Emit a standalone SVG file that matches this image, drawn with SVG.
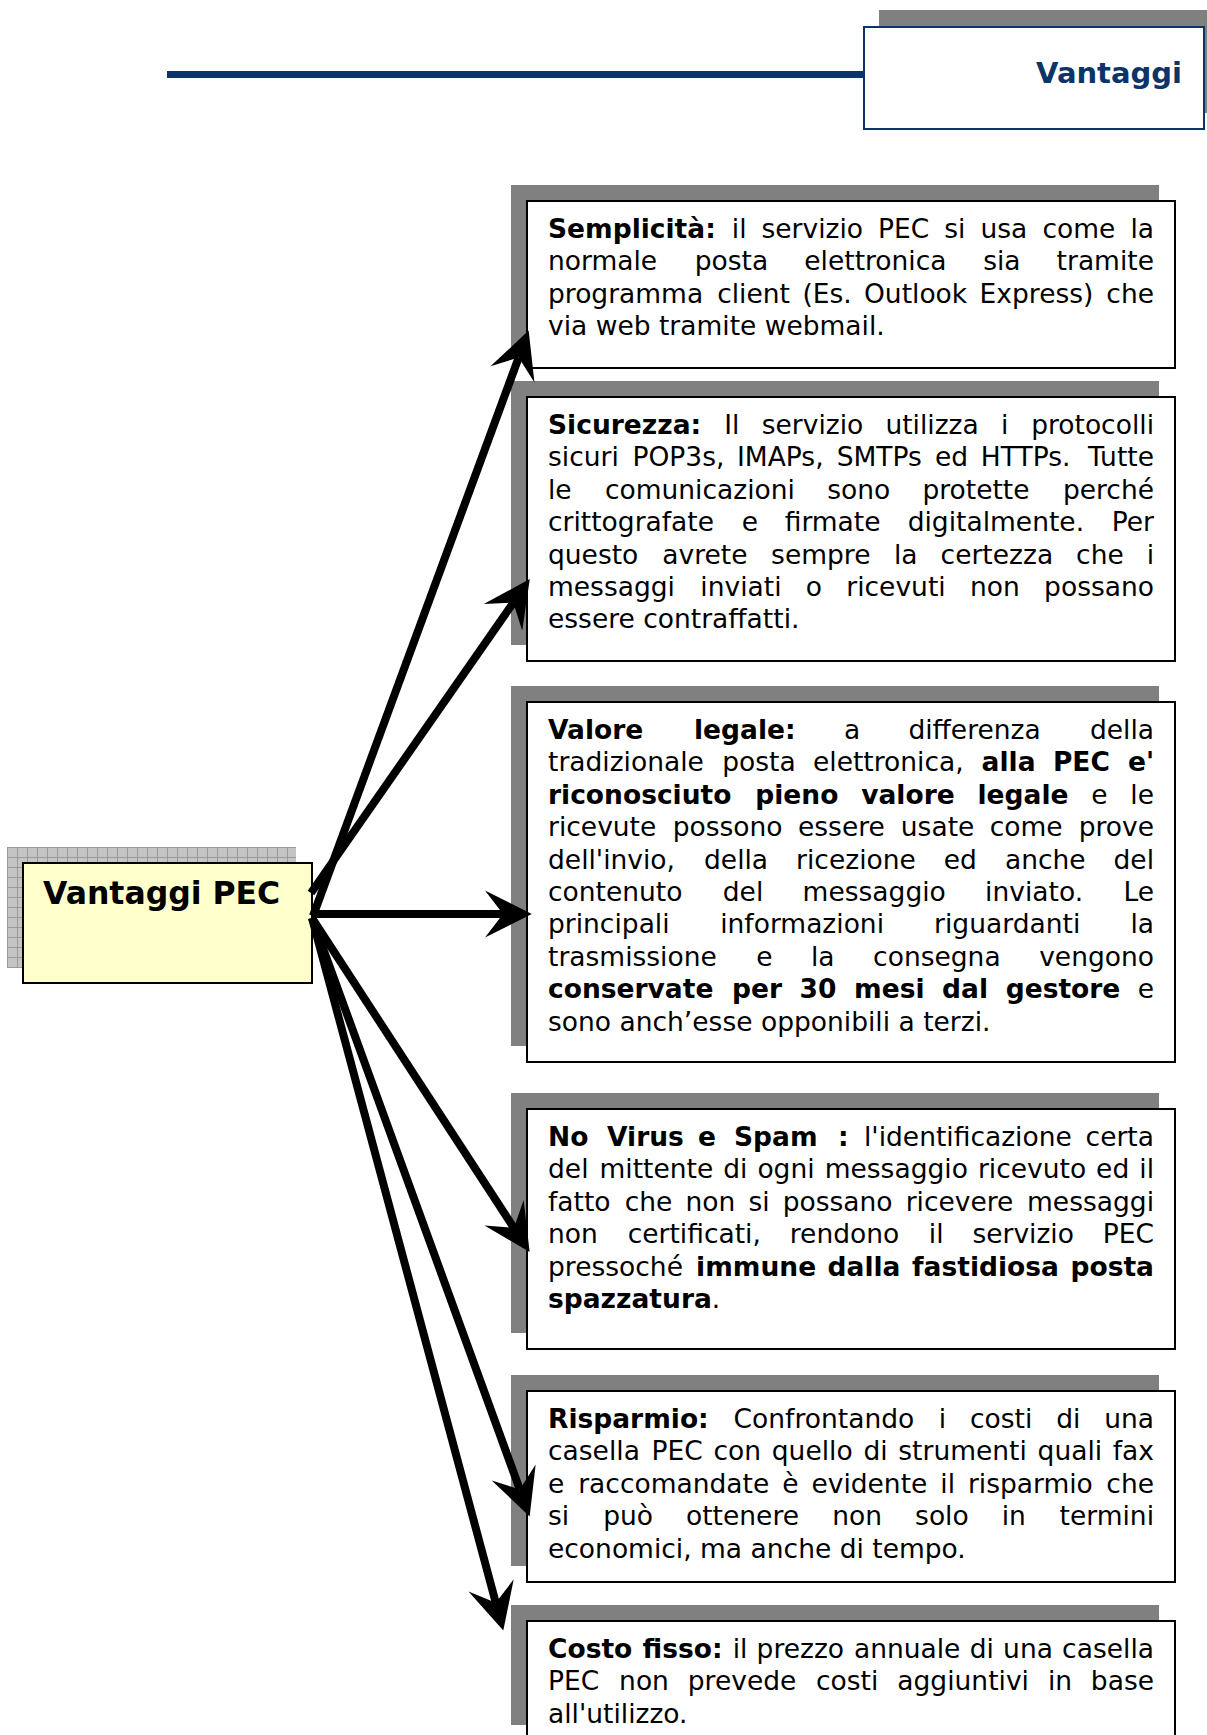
<svg xmlns="http://www.w3.org/2000/svg" width="1207" height="1735" viewBox="0 0 1207 1735">
<style>
.t{font-family:"DejaVu Sans",Verdana,sans-serif;font-size:26.5px;fill:#000}
.b{font-weight:bold}
.sh{fill:#808080}
.box{fill:#fff;stroke:#000;stroke-width:2}
.e{text-anchor:end}
.conn{stroke:#000;stroke-width:8;fill:none;marker-end:url(#ah)}
</style>
<defs>
<marker id="ah" markerUnits="userSpaceOnUse" orient="auto" refX="0" refY="0" markerWidth="60" markerHeight="60" viewBox="-20 -25 50 50" overflow="visible">
<path d="M24,0 L-15,-19.5 L0,0 L-15,19.5 Z" fill="#000"/>
</marker>
<pattern id="grid" width="10" height="10" patternUnits="userSpaceOnUse" x="7" y="847">
<rect width="10" height="10" fill="#c4c4c4"/>
<path d="M0,0.5 H10 M0.5,0 V10" stroke="#999" stroke-width="1"/>
</pattern>
</defs>
<rect width="1207" height="1735" fill="#fff"/>

<g id="header">
<line x1="167" y1="74.5" x2="864" y2="74.5" stroke="#0b3566" stroke-width="7"/>
<rect x="879" y="10" width="345" height="103" class="sh"/>
<rect x="864" y="27" width="340" height="102" fill="#fff" stroke="#0b3566" stroke-width="2"/>
<text x="1182" y="83" class="t b e" style="font-size:29px;fill:#0b3566">Vantaggi</text>
</g>

<g id="node-vantaggi-pec">
<rect x="7" y="847" width="289" height="121" fill="url(#grid)"/>
<rect x="23" y="863" width="289" height="120" fill="#ffffcc" stroke="#000" stroke-width="2"/>
<text x="43" y="904" class="t b" style="font-size:31.5px">Vantaggi PEC</text>
</g>

<g id="node-semplicita">
<rect x="511" y="185" width="648" height="167" class="sh"/>
<rect x="527" y="201" width="648" height="167" class="box"/>
<text y="238" class="t"><tspan x="548" class="b">Semplicità:</tspan><tspan x="731.8">il</tspan><tspan x="761.5">servizio</tspan><tspan x="878.1">PEC</tspan><tspan x="944.3">si</tspan><tspan x="980.5">usa</tspan><tspan x="1042.4">come</tspan><tspan x="1154" class="e">la</tspan></text>
<text y="270.4" class="t"><tspan x="548">normale</tspan><tspan x="694.7">posta</tspan><tspan x="804.3">elettronica</tspan><tspan x="983.2">sia</tspan><tspan x="1154" class="e">tramite</tspan></text>
<text y="302.8" class="t"><tspan x="548">programma</tspan><tspan x="717.2">client</tspan><tspan x="802.4">(Es.</tspan><tspan x="864">Outlook</tspan><tspan x="979.6">Express)</tspan><tspan x="1154" class="e">che</tspan></text>
<text x="548" y="335.2" class="t">via web tramite webmail.</text>
</g>

<g id="node-sicurezza">
<rect x="511" y="381" width="648" height="264" class="sh"/>
<rect x="527" y="397" width="648" height="264" class="box"/>
<text y="434" class="t"><tspan x="548" class="b">Sicurezza:</tspan><tspan x="724.3">Il</tspan><tspan x="761.7">servizio</tspan><tspan x="885.4">utilizza</tspan><tspan x="1001">i</tspan><tspan x="1154" class="e">protocolli</tspan></text>
<text y="466.4" class="t"><tspan x="548">sicuri</tspan><tspan x="632.5">POP3s,</tspan><tspan x="737">IMAPs,</tspan><tspan x="836.7">SMTPs</tspan><tspan x="935">ed</tspan><tspan x="980.8">HTTPs.</tspan><tspan x="1154" class="e">Tutte</tspan></text>
<text y="498.8" class="t"><tspan x="548">le</tspan><tspan x="604.9">comunicazioni</tspan><tspan x="827.2">sono</tspan><tspan x="922.4">protette</tspan><tspan x="1154" class="e">perché</tspan></text>
<text y="531.2" class="t"><tspan x="548">crittografate</tspan><tspan x="741.7">e</tspan><tspan x="784.7">firmate</tspan><tspan x="907.7">digitalmente.</tspan><tspan x="1154" class="e">Per</tspan></text>
<text y="563.6" class="t"><tspan x="548">questo</tspan><tspan x="662.3">avrete</tspan><tspan x="771.1">sempre</tspan><tspan x="894">la</tspan><tspan x="940.6">certezza</tspan><tspan x="1076.1">che</tspan><tspan x="1154" class="e">i</tspan></text>
<text y="596" class="t"><tspan x="548">messaggi</tspan><tspan x="700.3">inviati</tspan><tspan x="805.8">o</tspan><tspan x="846.3">ricevuti</tspan><tspan x="970">non</tspan><tspan x="1154" class="e">possano</tspan></text>
<text x="548" y="628.4" class="t">essere contraffatti.</text>
</g>

<g id="node-valore-legale">
<rect x="511" y="686" width="648" height="360" class="sh"/>
<rect x="527" y="702" width="648" height="360" class="box"/>
<text y="739" class="t"><tspan x="548" class="b">Valore</tspan><tspan x="694" class="b">legale:</tspan><tspan x="843.9">a</tspan><tspan x="908.4">differenza</tspan><tspan x="1154" class="e">della</tspan></text>
<text y="771.4" class="t"><tspan x="548">tradizionale</tspan><tspan x="722.2">posta</tspan><tspan x="813">elettronica,</tspan><tspan x="981.6" class="b">alla</tspan><tspan x="1052.9" class="b">PEC</tspan><tspan x="1154" class="b e">e'</tspan></text>
<text y="803.8" class="t"><tspan x="548" class="b">riconosciuto</tspan><tspan x="755.3" class="b">pieno</tspan><tspan x="861.2" class="b">valore</tspan><tspan x="977.5" class="b">legale</tspan><tspan x="1091.3">e</tspan><tspan x="1154" class="e">le</tspan></text>
<text y="836.2" class="t"><tspan x="548">ricevute</tspan><tspan x="672.7">possono</tspan><tspan x="798">essere</tspan><tspan x="900.8">usate</tspan><tspan x="989.7">come</tspan><tspan x="1154" class="e">prove</tspan></text>
<text y="868.6" class="t"><tspan x="548">dell'invio,</tspan><tspan x="704">della</tspan><tspan x="796.1">ricezione</tspan><tspan x="943.8">ed</tspan><tspan x="1004.9">anche</tspan><tspan x="1154" class="e">del</tspan></text>
<text y="901" class="t"><tspan x="548">contenuto</tspan><tspan x="722.8">del</tspan><tspan x="802.6">messaggio</tspan><tspan x="985.1">inviato.</tspan><tspan x="1154" class="e">Le</tspan></text>
<text y="933.4" class="t"><tspan x="548">principali</tspan><tspan x="720.2">informazioni</tspan><tspan x="934.1">riguardanti</tspan><tspan x="1154" class="e">la</tspan></text>
<text y="965.8" class="t"><tspan x="548">trasmissione</tspan><tspan x="756.3">e</tspan><tspan x="811">la</tspan><tspan x="873.1">consegna</tspan><tspan x="1154" class="e">vengono</tspan></text>
<text y="998.2" class="t"><tspan x="548" class="b">conservate</tspan><tspan x="732" class="b">per</tspan><tspan x="799.6" class="b">30</tspan><tspan x="854.1" class="b">mesi</tspan><tspan x="942.1" class="b">dal</tspan><tspan x="1005.7" class="b">gestore</tspan><tspan x="1154" class="e">e</tspan></text>
<text x="548" y="1030.6" class="t">sono anch’esse opponibili a terzi.</text>
</g>

<g id="node-no-virus">
<rect x="511" y="1093" width="648" height="240" class="sh"/>
<rect x="527" y="1109" width="648" height="240" class="box"/>
<text y="1146" class="t"><tspan x="548" class="b">No</tspan><tspan x="607" class="b">Virus</tspan><tspan x="698" class="b">e</tspan><tspan x="734" class="b">Spam</tspan><tspan x="838" class="b">:</tspan><tspan x="864">l'identificazione</tspan><tspan x="1154" class="e">certa</tspan></text>
<text y="1178.4" class="t"><tspan x="548">del</tspan><tspan x="599.5">mittente</tspan><tspan x="723.2">di</tspan><tspan x="757.4">ogni</tspan><tspan x="824.7">messaggio</tspan><tspan x="977.9">ricevuto</tspan><tspan x="1096.1">ed</tspan><tspan x="1154" class="e">il</tspan></text>
<text y="1210.8" class="t"><tspan x="548">fatto</tspan><tspan x="624.7">che</tspan><tspan x="685.5">non</tspan><tspan x="748.4">si</tspan><tspan x="782.7">possano</tspan><tspan x="905.7">ricevere</tspan><tspan x="1154" class="e">messaggi</tspan></text>
<text y="1243.2" class="t"><tspan x="548">non</tspan><tspan x="627.7">certificati,</tspan><tspan x="789.8">rendono</tspan><tspan x="928.8">il</tspan><tspan x="972.4">servizio</tspan><tspan x="1154" class="e">PEC</tspan></text>
<text y="1275.6" class="t"><tspan x="548">pressoché</tspan><tspan x="696.1" class="b">immune</tspan><tspan x="827.6" class="b">dalla</tspan><tspan x="912.1" class="b">fastidiosa</tspan><tspan x="1154" class="b e">posta</tspan></text>
<text x="548" y="1308" class="t"><tspan class="b">spazzatura</tspan>.</text>
</g>

<g id="node-risparmio">
<rect x="511" y="1375" width="648" height="191" class="sh"/>
<rect x="527" y="1391" width="648" height="191" class="box"/>
<text y="1428" class="t"><tspan x="548" class="b">Risparmio:</tspan><tspan x="733.6">Confrontando</tspan><tspan x="938.7">i</tspan><tspan x="970">costi</tspan><tspan x="1056.2">di</tspan><tspan x="1154" class="e">una</tspan></text>
<text y="1460.4" class="t"><tspan x="548">casella</tspan><tspan x="651.6">PEC</tspan><tspan x="713.5">con</tspan><tspan x="771.8">quello</tspan><tspan x="863.4">di</tspan><tspan x="898.3">strumenti</tspan><tspan x="1037.6">quali</tspan><tspan x="1154" class="e">fax</tspan></text>
<text y="1492.8" class="t"><tspan x="548">e</tspan><tspan x="578.2">raccomandate</tspan><tspan x="782.2">è</tspan><tspan x="811.4">evidente</tspan><tspan x="940.3">il</tspan><tspan x="967.9">risparmio</tspan><tspan x="1154" class="e">che</tspan></text>
<text y="1525.2" class="t"><tspan x="548">si</tspan><tspan x="603.2">può</tspan><tspan x="686">ottenere</tspan><tspan x="832.3">non</tspan><tspan x="915.1">solo</tspan><tspan x="1001.7">in</tspan><tspan x="1154" class="e">termini</tspan></text>
<text x="548" y="1557.6" class="t">economici, ma anche di tempo.</text>
</g>

<g id="node-costo-fisso">
<rect x="511" y="1605" width="648" height="120" class="sh"/>
<rect x="527" y="1621" width="648" height="120" class="box"/>
<text y="1658" class="t"><tspan x="548" class="b">Costo</tspan><tspan x="642.5" class="b">fisso:</tspan><tspan x="732.7">il</tspan><tspan x="756.6">prezzo</tspan><tspan x="853.9">annuale</tspan><tspan x="969.7">di</tspan><tspan x="1003.1">una</tspan><tspan x="1154" class="e">casella</tspan></text>
<text y="1690.4" class="t"><tspan x="548">PEC</tspan><tspan x="619.1">non</tspan><tspan x="687.8">prevede</tspan><tspan x="816">costi</tspan><tspan x="897.3">aggiuntivi</tspan><tspan x="1047.9">in</tspan><tspan x="1154" class="e">base</tspan></text>
<text x="548" y="1722.8" class="t">all'utilizzo.</text>
</g>

<g id="connectors">
<line class="conn" x1="313" y1="916" x2="518.7" y2="357.5"/>
<line class="conn" x1="311" y1="893" x2="513.3" y2="602.7"/>
<line class="conn" x1="311" y1="914" x2="503" y2="914"/>
<line class="conn" x1="312" y1="918" x2="513.9" y2="1227.9"/>
<line class="conn" x1="312" y1="918" x2="519.8" y2="1489.4"/>
<line class="conn" x1="312" y1="918" x2="495.8" y2="1602.8"/>
</g>
</svg>
